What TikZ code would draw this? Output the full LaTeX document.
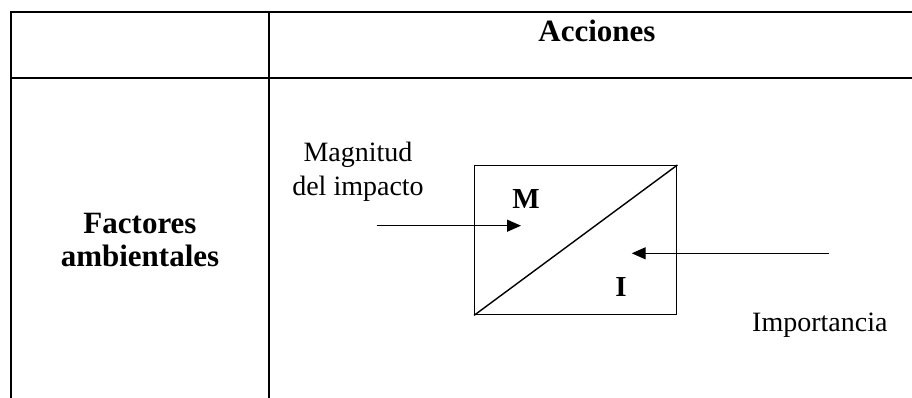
\documentclass[tikz,border=0pt]{standalone}
\usepackage{fontspec}
\setmainfont{Liberation Serif}
\usetikzlibrary{arrows.meta}
\begin{document}
\begin{tikzpicture}[x=1pt,y=-1pt,
  tbl/.style={line width=2pt, line join=miter},
  lbl/.style={font=\fontsize{28}{33}\selectfont, inner sep=0pt},
  blbl/.style={font=\fontsize{31}{33}\selectfont\bfseries, inner sep=0pt},
  mi/.style={font=\fontsize{29}{33}\selectfont\bfseries, inner sep=0pt},
  thin/.style={line width=1.4pt},
  arr/.style={line width=1.4pt, -{Triangle[length=14pt,width=12pt]}}]
\useasboundingbox (0,0) rectangle (912,398);
% table rules
\draw[tbl] (11,398) -- (11,12) -- (912,12);
\draw[tbl] (11,78) -- (912,78);
\draw[tbl] (269,12) -- (269,398);
% headers
\node[blbl, anchor=base] (acc) at (597,42) {Acciones};
\node[blbl, anchor=base, align=center] (fac) at (140,266) {Factores\\ambientales};
% box
\node[draw, thin, minimum width=202pt, minimum height=149pt, inner sep=0pt, anchor=north west] (box) at (474,165) {};
\draw[thin] (box.south west) -- (box.north east);
\node[mi, anchor=base] (M) at (526,208.3) {M};
\node[mi, anchor=base] (I) at (621,296.7) {I};
% labels
\node[lbl, anchor=base, align=center] (mag) at (358,195) {Magnitud\\del impacto};
\node[lbl, anchor=base west] (imp) at (752,331.7) {Importancia};
% arrows
\coordinate (a1s) at (376.7,225.7);
\coordinate (a1e) at (521,225.7);
\coordinate (a2s) at (829,253.3);
\coordinate (a2e) at (631.7,253.3);
\draw[arr] (a1s) -- (a1e);
\draw[arr] (a2s) -- (a2e);
\end{tikzpicture}
\end{document}
